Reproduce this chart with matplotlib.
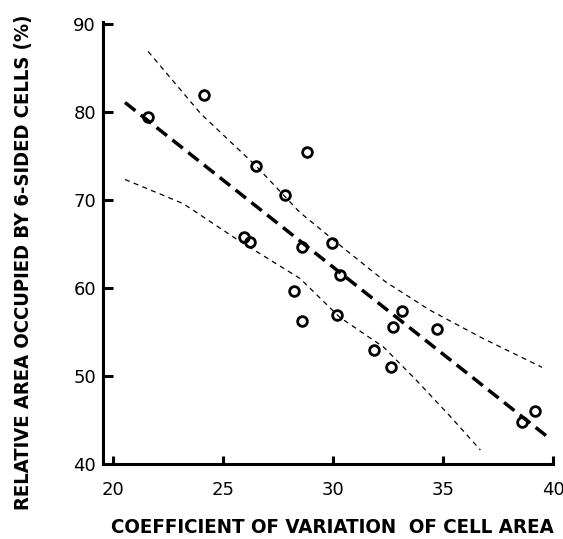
import matplotlib
matplotlib.use("Agg")
import matplotlib.pyplot as plt

# measured points: coefficient of variation of cell area vs. % area in 6-sided cells
cv_area = [21.6, 24.15, 26.5, 28.8, 27.8, 25.95, 26.25, 28.6, 29.95, 30.3,
           28.25, 28.6, 30.2, 33.15, 32.75, 34.75, 31.85, 32.65, 39.2, 38.6]
hex_area = [79.5, 81.9, 73.9, 75.5, 70.6, 65.8, 65.2, 64.7, 65.1, 61.5,
            59.7, 56.25, 56.9, 57.4, 55.6, 55.3, 52.95, 51.0, 46.0, 44.8]

# regression line and its confidence limits
fit_x = [20.55, 39.7]
fit_y = [81.1, 43.2]
upper_x = [21.6, 24.0, 26.5, 28.5, 30.6, 32.4, 34.4, 36.8, 39.5]
upper_y = [86.9, 79.8, 73.9, 68.6, 64.3, 60.7, 57.5, 54.3, 51.0]
lower_x = [20.55, 23.2, 25.6, 28.5, 30.3, 32.3, 33.8, 35.3, 36.7]
lower_y = [72.35, 69.6, 65.6, 61.1, 56.7, 53.3, 49.5, 45.5, 41.6]

x_ticks = [20, 25, 30, 35, 40]
y_ticks = [40, 50, 60, 70, 80, 90]

FONT = ["DejaVu Sans"]

fig = plt.figure(figsize=(5.63, 5.39), dpi=100)
ax = fig.add_axes([0.183, 0.139, 0.811, 0.821])

ax.plot(upper_x, upper_y, color="black", lw=0.9, dashes=(4, 3.5))
ax.plot(lower_x, lower_y, color="black", lw=0.9, dashes=(4, 3.5))
ax.plot(fit_x, fit_y, color="black", lw=2.5, dashes=(3.8, 2.0))
ax.plot(cv_area, hex_area, ls="none", marker="o", ms=7, mew=2.0,
        mfc="none", mec="black")

ax.set_xlim(19.55, 40.3)
ax.set_ylim(40, 90.3)
ax.set_xticks(x_ticks)
ax.set_yticks(y_ticks)

for side in ("top", "right"):
    ax.spines[side].set_visible(False)
for side in ("left", "bottom"):
    ax.spines[side].set_linewidth(2.2)
ax.spines["bottom"].set_bounds(20, 40)

ax.tick_params(axis="both", direction="in", width=2.2, colors="black")
ax.tick_params(axis="y", length=7, pad=5)
ax.tick_params(axis="x", length=6, pad=12)
for lab in ax.get_xticklabels() + ax.get_yticklabels():
    lab.set_family(FONT)
    lab.set_fontsize(13)
    lab.set_fontstretch("semi-condensed")

ax.set_xlabel("COEFFICIENT OF VARIATION  OF CELL AREA", family=FONT,
              fontsize=14.7, fontweight="bold", fontstretch="condensed")
ax.set_ylabel("RELATIVE AREA OCCUPIED BY 6-SIDED CELLS (%)", family=FONT,
              fontsize=14.5, fontweight="bold", fontstretch="condensed")
ax.xaxis.set_label_coords(0.502, -0.121)
ax.yaxis.set_label_coords(-0.153, 0.456)

fig.savefig("out.png", dpi=100)
